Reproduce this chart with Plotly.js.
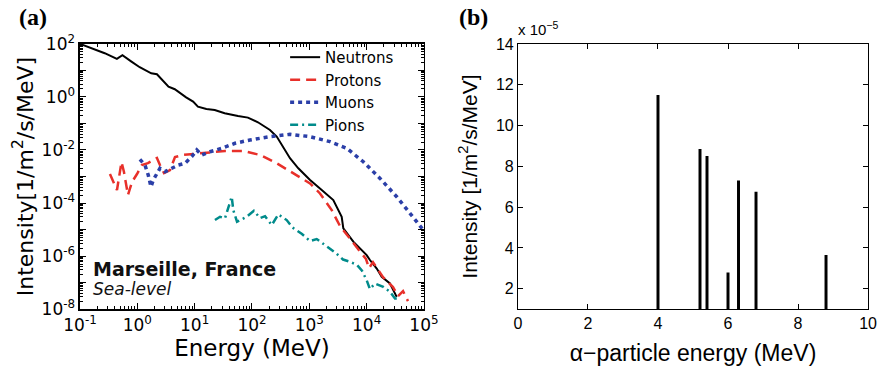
<!DOCTYPE html>
<html><head><meta charset="utf-8">
<script src="https://cdn.plot.ly/plotly-3.0.1.min.js"></script>
<style>html,body{margin:0;padding:0;background:#fff}#chart{width:880px;height:372px}</style>
</head><body><div id="chart"></div>
<script>
// Panel (a): cosmic-ray particle spectra at sea level (Marseille)
const neutronE = [0.1,0.27,0.44,0.55,0.79,1.1,1.75,2.2,3.5,4.5,7.1,9.4,11.4,16,22.4,33.4,57,85,127,206,270,352,460,643,1030,1645,2620,3670,3920,5850,10000,11400,15000,18300,25500,33400];
const neutronI = [100,44.6,27.2,37.5,21.5,13.2,7.8,7.2,2.45,1.95,0.97,0.67,0.43,0.35,0.32,0.243,0.19,0.166,0.111,0.057,0.032,0.0133,0.0049,0.00204,7.4e-4,3.1e-4,1.3e-4,3.04e-5,1.11e-5,3.5e-6,1.09e-6,7.1e-7,3.4e-7,1.66e-7,9.3e-8,2.9e-8];

const protonE = [0.333,0.442,0.53,0.585,0.687,0.807,0.987,1.2,1.53,1.88,2.2,2.48,2.92,3.72,4.54,6.26,10.1,18.5,33.8,69.7,138,270,526,1030,1536,2457,3430,4540,6790,9750,11000,12900,19300,28800,35200,43100,52600];
const protonI = [1.24e-3,3.1e-4,3.5e-3,1.48e-3,2.0e-4,6.2e-4,1.24e-3,2.7e-3,3.2e-3,4.2e-3,5.0e-3,2.7e-3,1.35e-3,1.76e-3,5.4e-3,6.5e-3,7.1e-3,8.4e-3,9.2e-3,9.2e-3,6.5e-3,3.15e-3,1.32e-3,5.5e-4,2.3e-4,5.4e-5,1.36e-5,6.2e-6,2.2e-6,7.7e-7,3.5e-7,5.9e-7,1.6e-7,6.8e-8,3.1e-8,4.8e-8,2.0e-8];

const muonE = [1.11,1.36,1.55,1.73,1.9,2.18,2.48,3.04,3.98,5.19,6.79,8.9,10.9,13.3,18.5,29.7,50.6,92.4,206,460,1030,2300,4490,8750,17100,33400,57000,97300];
const muonI = [4.46e-3,2.7e-3,1.14e-3,4.1e-4,7.4e-4,1.32e-3,2.04e-3,1.52e-3,2.04e-3,2.7e-3,3.15e-3,5.6e-3,0.01,6.5e-3,8.6e-3,0.0116,0.0179,0.0238,0.0318,0.039,0.0318,0.0206,0.0116,3.6e-3,8.5e-4,1.73e-4,4.1e-5,9.6e-6];

const pionE = [22.6,27.7,33.8,44.3,47.2,54.8,80.9,108,138,169,221,288,403,509,745,1030,1345,1955,2920,3870,5130,6790,8300,10000,11400,14000,19500,25500,31200,38200];
const pionI = [2.28e-5,3.04e-5,2.65e-5,1.73e-4,5.4e-5,1.97e-5,3.04e-5,5.1e-5,2.7e-5,3.2e-5,1.48e-5,3.7e-5,2.28e-5,1.19e-5,6.8e-6,3.7e-6,4.4e-6,2.4e-6,1.3e-6,7.4e-7,6.1e-7,4.6e-7,2.8e-7,1.24e-7,5.7e-8,9.2e-8,6.9e-8,4.5e-8,2.5e-8,2.5e-8];

const xTickVals = [0.1,1,10,100,1000,10000,100000];
const xTickText = ['10<sup>-1</sup>','10<sup>0</sup>','10<sup>1</sup>','10<sup>2</sup>','10<sup>3</sup>','10<sup>4</sup>','10<sup>5</sup>'];
const yTickVals = [1e-8,1e-7,1e-6,1e-5,1e-4,1e-3,1e-2,1e-1,1,10,100];
const yTickText = ['10<sup>-8</sup>','','10<sup>-6</sup>','','10<sup>-4</sup>','','10<sup>-2</sup>','','10<sup>0</sup>','','10<sup>2</sup>'];

// Panel (b): alpha-particle lines (intensity in units of 1e-5 1/m^2/s/MeV)
const alphaE = [4.0,5.2,5.4,6.0,6.3,6.8,8.8];
const alphaI = [11.5,8.85,8.5,2.8,7.3,6.75,3.65];
const bTickVals = [2,4,6,8,10,12,14];
const bXTickVals = [0,2,4,6,8,10];

const fa = 'DejaVu Sans, sans-serif';
const fb = 'Liberation Sans, Arial, sans-serif';

const traces = [
  {x: neutronE, y: neutronI, name: 'Neutrons', type: 'scatter', mode: 'lines',
   line: {color: '#000000', width: 2}, xaxis: 'x', yaxis: 'y'},
  {x: protonE, y: protonI, name: 'Protons', type: 'scatter', mode: 'lines',
   line: {color: '#e8302a', width: 2.5, dash: '10px,6px'}, xaxis: 'x', yaxis: 'y'},
  {x: muonE, y: muonI, name: 'Muons', type: 'scatter', mode: 'lines',
   line: {color: '#2b3fa8', width: 3.5, dash: '4px,4px'}, xaxis: 'x', yaxis: 'y'},
  {x: pionE, y: pionI, name: 'Pions', type: 'scatter', mode: 'lines',
   line: {color: '#008b8b', width: 2.5, dash: '8px,4px,2px,4px'}, xaxis: 'x', yaxis: 'y'},
  {x: alphaE, y: alphaI, type: 'bar', width: 0.085, marker: {color: '#000000', line: {width: 0}},
   showlegend: false, xaxis: 'x2', yaxis: 'y2'}
];

const layout = {
  width: 880, height: 372,
  margin: {l: 0, r: 0, t: 0, b: 0},
  paper_bgcolor: '#ffffff', plot_bgcolor: '#ffffff',
  showlegend: true,
  legend: {x: 0.324, y: 0.89, xanchor: 'left', yanchor: 'top', bgcolor: 'rgba(0,0,0,0)',
           font: {family: fa, size: 15, color: '#000'}, tracegroupgap: 0, itemwidth: 30},
  xaxis: {domain: [0.0909, 0.4818], type: 'log', range: [-1, 5], anchor: 'y',
          tickmode: 'array', tickvals: xTickVals, ticktext: xTickText,
          ticks: 'inside', ticklen: 6, tickcolor: '#000', showline: true, linecolor: '#000', linewidth: 1.5,
          mirror: 'allticks', showgrid: false, zeroline: false,
          minor: {ticks: 'inside', ticklen: 3, dtick: 'D1', tickcolor: '#000', showgrid: false},
          tickfont: {family: fa, size: 17, color: '#000'},
          title: {text: 'Energy (MeV)', font: {family: fa, size: 23, color: '#000'}, standoff: 4}},
  yaxis: {domain: [0.169, 0.882], type: 'log', range: [-8, 2], anchor: 'x',
          tickmode: 'array', tickvals: yTickVals, ticktext: yTickText,
          ticks: 'inside', ticklen: 6, tickcolor: '#000', showline: true, linecolor: '#000', linewidth: 1.5,
          mirror: 'allticks', showgrid: false, zeroline: false,
          minor: {ticks: 'inside', ticklen: 3, dtick: 'D1', tickcolor: '#000', showgrid: false},
          tickfont: {family: fa, size: 17, color: '#000'},
          title: {text: 'Intensity[1/m<sup>2</sup>/s/MeV]', font: {family: fa, size: 22, color: '#000'}, standoff: 2}},
  xaxis2: {domain: [0.5886, 0.9864], range: [0, 10], anchor: 'y2',
           tickmode: 'array', tickvals: bXTickVals,
           ticks: 'inside', ticklen: 5, tickcolor: '#000', showline: true, linecolor: '#000', linewidth: 1,
           mirror: 'ticks', showgrid: false, zeroline: false,
           tickfont: {family: fb, size: 16, color: '#000'},
           title: {text: 'α−particle energy (MeV)', font: {family: fb, size: 23, color: '#000'}, standoff: 13}},
  yaxis2: {domain: [0.169, 0.882], range: [1, 14], anchor: 'x2',
           tickmode: 'array', tickvals: bTickVals,
           ticks: 'inside', ticklen: 5, tickcolor: '#000', showline: true, linecolor: '#000', linewidth: 1,
           mirror: 'ticks', showgrid: false, zeroline: false,
           tickfont: {family: fb, size: 16, color: '#000'},
           title: {text: 'Intensity [1/m<sup>2</sup>/s/MeV]', font: {family: fb, size: 21, color: '#000'}, standoff: 12}},
  annotations: [
    {text: '<b>(a)</b>', xref: 'paper', yref: 'paper', x: 0.019, y: 0.995, xanchor: 'left', yanchor: 'top',
     showarrow: false, font: {family: 'Liberation Serif, Times New Roman, serif', size: 24, color: '#000'}},
    {text: '<b>(b)</b>', xref: 'paper', yref: 'paper', x: 0.519, y: 0.995, xanchor: 'left', yanchor: 'top',
     showarrow: false, font: {family: 'Liberation Serif, Times New Roman, serif', size: 24, color: '#000'}},
    {text: '<b>Marseille, France</b>', xref: 'paper', yref: 'paper', x: 0.103, y: 0.276, xanchor: 'left', yanchor: 'middle',
     showarrow: false, font: {family: fa, size: 19, color: '#111'}},
    {text: '<i>Sea-level</i>', xref: 'paper', yref: 'paper', x: 0.103, y: 0.222, xanchor: 'left', yanchor: 'middle',
     showarrow: false, font: {family: fa, size: 17, color: '#111'}},
    {text: 'x 10<sup>−5</sup>', xref: 'paper', yref: 'paper', x: 0.6114, y: 0.893, xanchor: 'center', yanchor: 'bottom',
     showarrow: false, font: {family: fb, size: 15, color: '#000'}}
  ]
};

Plotly.newPlot('chart', traces, layout, {staticPlot: true, displayModeBar: false});
</script></body></html>
